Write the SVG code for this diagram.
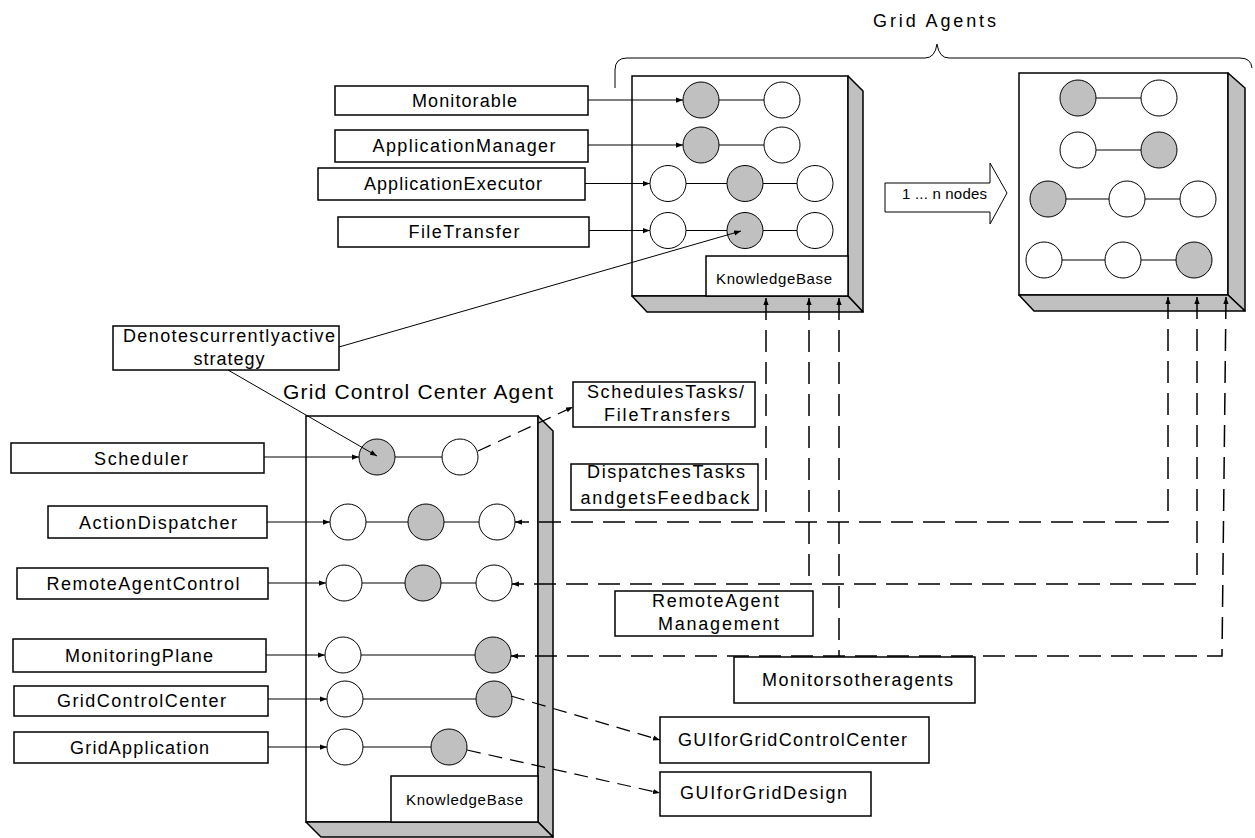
<svg xmlns="http://www.w3.org/2000/svg" width="1255" height="838" viewBox="0 0 1255 838">
<defs>
<marker id="a" viewBox="0 0 8 8" refX="8" refY="4" markerWidth="7" markerHeight="7" markerUnits="userSpaceOnUse" orient="auto-start-reverse"><path d="M0,1 L8,4 L0,7 z" fill="#000"/></marker>
</defs>
<style>
.box{fill:#fff;stroke:#000;stroke-width:1.5}
.t{font-family:"Liberation Sans",Arial,sans-serif;font-size:18px;fill:#000;text-anchor:middle}
.s{font-size:15px}
.on{fill:#c0c0c0;stroke:#000;stroke-width:1}
.off{fill:#fff;stroke:#000;stroke-width:1}
.ln{stroke:#000;stroke-width:1;fill:none}
.dash{stroke:#000;stroke-width:1.5;fill:none;stroke-dasharray:22 10}
.sd{stroke:#000;stroke-width:1.2;fill:none;stroke-dasharray:14 8}
.panel{fill:#c0c0c0;stroke:#000;stroke-width:1.5;stroke-linejoin:round}
</style>
<rect width="1255" height="838" fill="#fff"/>

<!-- titles -->
<g id="title-grid-agents">
<text class="t" x="934.5" y="27" textLength="123">Grid Agents</text>
<path class="ln" d="M615,88 L615,70 Q615,58 627,58 L925,58 Q935,58 937,44 Q939,58 949,58 L1240,58 Q1251,58 1252,68"/>
</g>
<g id="title-gcc">
<text class="t" style="font-size:21px" x="418" y="399" textLength="270">Grid Control Center Agent</text>
</g>

<!-- Grid agent box 1 -->
<g id="agent1">
<rect class="box" x="632" y="76" width="216" height="220"/>
<polygon class="panel" points="848,76 863,91 863,312 848,296"/>
<polygon class="panel" points="632,296 848,296 863,312 647,312"/>
<rect class="box" x="706" y="256" width="142" height="40"/>
<text class="t s" x="774" y="284" textLength="116">KnowledgeBase</text>
<line class="ln" x1="719" y1="100" x2="764" y2="100"/>
<line class="ln" x1="719" y1="145" x2="764" y2="145"/>
<line class="ln" x1="686" y1="183.5" x2="727" y2="183.5"/>
<line class="ln" x1="763" y1="183.5" x2="797" y2="183.5"/>
<line class="ln" x1="686" y1="230.5" x2="727" y2="230.5"/>
<line class="ln" x1="763" y1="230.5" x2="797" y2="230.5"/>
<circle class="on" cx="701" cy="100" r="18"/>
<circle class="off" cx="782" cy="100" r="18"/>
<circle class="on" cx="701" cy="145" r="18"/>
<circle class="off" cx="782" cy="145" r="18"/>
<circle class="off" cx="668" cy="183.5" r="18"/>
<circle class="on" cx="745" cy="183.5" r="18"/>
<circle class="off" cx="815" cy="183.5" r="18"/>
<circle class="off" cx="668" cy="230.5" r="18"/>
<circle class="on" cx="745" cy="230.5" r="18"/>
<circle class="off" cx="815" cy="230.5" r="18"/>
</g>

<!-- Grid agent box 2 -->
<g id="agent2">
<rect class="box" x="1019" y="73" width="209" height="222"/>
<polygon class="panel" points="1228,73 1245,88 1245,311 1228,295"/>
<polygon class="panel" points="1019,295 1228,295 1245,311 1034,311"/>
<line class="ln" x1="1096" y1="98" x2="1141" y2="98"/>
<line class="ln" x1="1096" y1="150" x2="1141" y2="150"/>
<line class="ln" x1="1066" y1="199" x2="1109" y2="199"/>
<line class="ln" x1="1145" y1="199" x2="1180" y2="199"/>
<line class="ln" x1="1062" y1="260" x2="1105" y2="260"/>
<line class="ln" x1="1141" y1="260" x2="1176" y2="260"/>
<circle class="on" cx="1078" cy="98" r="18"/>
<circle class="off" cx="1159" cy="98" r="18"/>
<circle class="off" cx="1078" cy="150" r="18"/>
<circle class="on" cx="1159" cy="150" r="18"/>
<circle class="on" cx="1048" cy="199" r="18"/>
<circle class="off" cx="1127" cy="199" r="18"/>
<circle class="off" cx="1198" cy="199" r="18"/>
<circle class="off" cx="1044" cy="260" r="18"/>
<circle class="off" cx="1123" cy="260" r="18"/>
<circle class="on" cx="1194" cy="260" r="18"/>
</g>

<g id="n-nodes-arrow">
<polygon class="box" style="stroke-width:1" points="885,183 990,183 990,163 1007,193 990,224 990,212 885,212"/>
<text class="t s" x="944.5" y="198.5" textLength="85">1 ... n nodes</text>
</g>

<!-- Grid Control Center agent box -->
<g id="gcc-agent">
<rect class="box" x="306" y="416" width="232" height="406"/>
<polygon class="panel" points="538,416 553,431 553,837 538,822"/>
<polygon class="panel" points="306,822 538,822 553,837 321,837"/>
<rect class="box" x="391" y="776" width="147" height="46"/>
<text class="t s" x="464.5" y="804.5" textLength="117">KnowledgeBase</text>
<line class="ln" x1="395" y1="457" x2="442" y2="457"/>
<line class="ln" x1="366" y1="522" x2="408" y2="522"/>
<line class="ln" x1="444" y1="522" x2="479" y2="522"/>
<line class="ln" x1="362" y1="583" x2="405" y2="583"/>
<line class="ln" x1="441" y1="583" x2="476" y2="583"/>
<line class="ln" x1="361" y1="655" x2="475" y2="655"/>
<line class="ln" x1="363" y1="699" x2="476" y2="699"/>
<line class="ln" x1="363" y1="747" x2="431" y2="747"/>
<circle class="on" cx="377" cy="457" r="18"/>
<circle class="off" cx="460" cy="457" r="18"/>
<circle class="off" cx="348" cy="522" r="18"/>
<circle class="on" cx="426" cy="522" r="18"/>
<circle class="off" cx="497" cy="522" r="18"/>
<circle class="off" cx="344" cy="583" r="18"/>
<circle class="on" cx="423" cy="583" r="18"/>
<circle class="off" cx="494" cy="583" r="18"/>
<circle class="off" cx="343" cy="655" r="18"/>
<circle class="on" cx="493" cy="655" r="18"/>
<circle class="off" cx="345" cy="699" r="18"/>
<circle class="on" cx="494" cy="699" r="18"/>
<circle class="off" cx="345" cy="747" r="18"/>
<circle class="on" cx="449" cy="747" r="18"/>
</g>

<!-- label boxes -->
<g id="lbl-monitorable"><rect class="box" x="335" y="86" width="253" height="29"/><text class="t" x="464.5" y="106.5" textLength="105">Monitorable</text></g>
<g id="lbl-appmanager"><rect class="box" x="335" y="130" width="253" height="32"/><text class="t" x="464" y="152" textLength="183">ApplicationManager</text></g>
<g id="lbl-appexecutor"><rect class="box" x="318" y="168" width="267" height="32"/><text class="t" x="453" y="190" textLength="178">ApplicationExecutor</text></g>
<g id="lbl-filetransfer"><rect class="box" x="338" y="217" width="251" height="30"/><text class="t" x="464" y="238" textLength="111">FileTransfer</text></g>
<g id="lbl-denotes"><rect class="box" x="113" y="326" width="226" height="44"/><text class="t" x="229" y="342" textLength="212">Denotescurrentlyactive</text><text class="t" x="229" y="365" textLength="71">strategy</text></g>
<g id="lbl-scheduler"><rect class="box" x="11" y="443" width="253" height="30"/><text class="t" x="141" y="464.5" textLength="94">Scheduler</text></g>
<g id="lbl-actiondispatcher"><rect class="box" x="48" y="506" width="219" height="32"/><text class="t" x="158" y="528.5" textLength="158">ActionDispatcher</text></g>
<g id="lbl-remoteagentcontrol"><rect class="box" x="17" y="568" width="251" height="31"/><text class="t" x="143" y="590" textLength="193">RemoteAgentControl</text></g>
<g id="lbl-monitoringplane"><rect class="box" x="13" y="639" width="253" height="33"/><text class="t" x="139" y="661.5" textLength="148">MonitoringPlane</text></g>
<g id="lbl-gridcontrolcenter"><rect class="box" x="14" y="686" width="254" height="30"/><text class="t" x="141.5" y="707" textLength="169">GridControlCenter</text></g>
<g id="lbl-gridapplication"><rect class="box" x="14" y="732" width="254" height="31"/><text class="t" x="139.5" y="753.5" textLength="139">GridApplication</text></g>
<g id="lbl-schedules"><rect class="box" x="573" y="382" width="182" height="45"/><text class="t" x="665.5" y="397.5" textLength="157">SchedulesTasks/</text><text class="t" x="667" y="420.5" textLength="126">FileTransfers</text></g>
<g id="lbl-dispatches"><rect class="box" x="571" y="464" width="187" height="46"/><text class="t" x="666" y="478" textLength="158">DispatchesTasks</text><text class="t" x="665" y="503.5" textLength="169">andgetsFeedback</text></g>
<g id="lbl-remotemgmt"><rect class="box" x="615" y="591" width="198" height="45"/><text class="t" x="715.5" y="606.5" textLength="127">RemoteAgent</text><text class="t" x="718.5" y="629.5" textLength="121">Management</text></g>
<g id="lbl-monitors"><rect class="box" x="734" y="657" width="241" height="46"/><text class="t" x="857.5" y="685.5" textLength="191">Monitorsotheragents</text></g>
<g id="lbl-gui-gcc"><rect class="box" x="660" y="717" width="269" height="46"/><text class="t" x="792.5" y="745.5" textLength="229">GUIforGridControlCenter</text></g>
<g id="lbl-gui-design"><rect class="box" x="660" y="772" width="211" height="44"/><text class="t" x="763.5" y="798.5" textLength="167">GUIforGridDesign</text></g>

<!-- connectors -->
<g id="connectors">
<line class="ln" x1="588" y1="100" x2="683" y2="100" marker-end="url(#a)"/>
<line class="ln" x1="588" y1="145" x2="683" y2="145" marker-end="url(#a)"/>
<line class="ln" x1="585" y1="183.5" x2="650" y2="183.5" marker-end="url(#a)"/>
<line class="ln" x1="589" y1="230.5" x2="650" y2="230.5" marker-end="url(#a)"/>
<line class="ln" x1="339" y1="347" x2="741" y2="231" marker-end="url(#a)"/>
<line class="ln" x1="228" y1="370" x2="377" y2="456" marker-end="url(#a)"/>
<line class="ln" x1="264" y1="457" x2="359" y2="457" marker-end="url(#a)"/>
<line class="ln" x1="267" y1="522" x2="330" y2="522" marker-end="url(#a)"/>
<line class="ln" x1="268" y1="583" x2="326" y2="583" marker-end="url(#a)"/>
<line class="ln" x1="266" y1="655" x2="325" y2="655" marker-end="url(#a)"/>
<line class="ln" x1="268" y1="699" x2="327" y2="699" marker-end="url(#a)"/>
<line class="ln" x1="268" y1="747" x2="327" y2="747" marker-end="url(#a)"/>
<line class="sd" x1="478" y1="451" x2="573" y2="407" marker-end="url(#a)"/>
<line class="sd" x1="511" y1="696" x2="660" y2="740" marker-end="url(#a)"/>
<line class="sd" x1="467" y1="750" x2="660" y2="793" marker-end="url(#a)"/>
<path class="dash" d="M1168,297 V522 H515" marker-start="url(#a)" marker-end="url(#a)"/>
<path class="dash" d="M766,298 V522" marker-start="url(#a)"/>
<path class="dash" d="M1197,297 V584 H512" marker-start="url(#a)" marker-end="url(#a)"/>
<path class="dash" d="M809,298 V584" marker-start="url(#a)"/>
<path class="dash" d="M1226,297 L1222,656 H511" marker-start="url(#a)" marker-end="url(#a)"/>
<path class="dash" d="M839,298 V656" marker-start="url(#a)"/>
</g>
</svg>
